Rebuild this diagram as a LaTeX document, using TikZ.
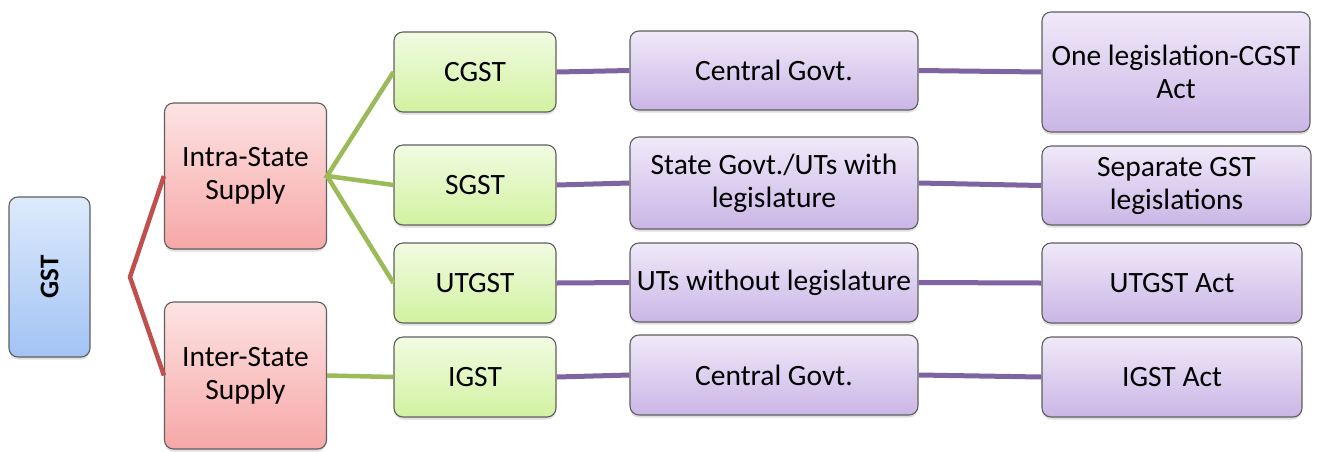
\documentclass[tikz,border=0pt]{standalone}
\usepackage{fontspec}
\setmainfont{Carlito}
\usetikzlibrary{shadows}
\definecolor{bordc}{HTML}{5F5F5F}
\definecolor{bluetop}{HTML}{DDEAFC}
\definecolor{bluebot}{HTML}{A2C3F4}
\definecolor{pinktop}{HTML}{FDE3E3}
\definecolor{pinkbot}{HTML}{F7A7A7}
\definecolor{greentop}{HTML}{F1FBE2}
\definecolor{greenbot}{HTML}{D2F2A0}
\definecolor{purptop}{HTML}{F0E9F9}
\definecolor{purpbot}{HTML}{CAB6E6}
\definecolor{redline}{HTML}{C0504D}
\definecolor{greenline}{HTML}{9BBB59}
\definecolor{purpline}{HTML}{8064A2}
\tikzset{
  box/.style={draw=bordc, line width=1.1pt, rounded corners=9pt, align=center,
    inner sep=2pt, font=\fontsize{29.5}{33}\selectfont,
    drop shadow={opacity=0.25, shadow xshift=0pt, shadow yshift=-2.5pt}},
  bluebox/.style={box, top color=bluetop, bottom color=bluebot},
  pinkbox/.style={box, top color=pinktop, bottom color=pinkbot},
  greenbox/.style={box, top color=greentop, bottom color=greenbot},
  purpbox/.style={box, top color=purptop, bottom color=purpbot},
  redconn/.style={draw=redline, line width=4.5pt},
  greenconn/.style={draw=greenline, line width=4.5pt},
  purpconn/.style={draw=purpline, line width=5pt},
}
\begin{document}
\begin{tikzpicture}[x=1pt,y=-1pt]
\useasboundingbox[fill=white] (0,0) rectangle (1319,451);
% column 1
\node[bluebox, minimum width=81pt, minimum height=160pt, font=\fontsize{27}{33}\selectfont] (gst) at (49.5,277) {\rotatebox{90}{\bfseries GST}};
% column 2
\node[pinkbox, minimum width=162pt, minimum height=146pt] (intra) at (245.5,176) {Intra-State\\Supply};
\node[pinkbox, minimum width=162pt, minimum height=147pt] (inter) at (245.5,375.5) {Inter-State\\Supply};
% column 3
\node[greenbox, minimum width=162pt, minimum height=80pt] (cgst) at (475,72) {CGST};
\node[greenbox, minimum width=162pt, minimum height=80pt] (sgst) at (475,185) {SGST};
\node[greenbox, minimum width=162pt, minimum height=80pt] (utgst) at (475,283) {UTGST};
\node[greenbox, minimum width=162pt, minimum height=80pt] (igst) at (475,377) {IGST};
% column 4
\node[purpbox, minimum width=288pt, minimum height=79pt] (cg1) at (774,70.5) {Central Govt.};
\node[purpbox, minimum width=288pt, minimum height=92pt] (sg) at (774,183) {State Govt./UTs with\\legislature};
\node[purpbox, minimum width=288pt, minimum height=79pt] (ut) at (774,282.5) {UTs without legislature};
\node[purpbox, minimum width=288pt, minimum height=80pt] (cg2) at (774,375) {Central Govt.};
% column 5
\node[purpbox, minimum width=268pt, minimum height=120pt] (one) at (1176,72) {One legislation-CGST\\Act};
\node[purpbox, minimum width=269pt, minimum height=79pt] (sep) at (1176.5,185.5) {Separate GST\\legislations};
\node[purpbox, minimum width=260pt, minimum height=80pt] (utact) at (1172,283) {UTGST Act};
\node[purpbox, minimum width=260pt, minimum height=80pt] (igact) at (1172,377) {IGST Act};
% connectors
\coordinate (fork) at (130,277);
\draw[redconn] (intra.west) -- (fork) -- (inter.west);
\draw[greenconn] (cgst.west) -- (intra.east) -- (sgst.west);
\draw[greenconn] (intra.east) -- (utgst.west);
\draw[greenconn] (inter.east) -- (igst.west);
\draw[purpconn] (cgst.east) -- (cg1.west);
\draw[purpconn] (sgst.east) -- (sg.west);
\draw[purpconn] (utgst.east) -- (ut.west);
\draw[purpconn] (igst.east) -- (cg2.west);
\draw[purpconn] (cg1.east) -- (one.west);
\draw[purpconn] (sg.east) -- (sep.west);
\draw[purpconn] (ut.east) -- (utact.west);
\draw[purpconn] (cg2.east) -- (igact.west);
\end{tikzpicture}
\end{document}
